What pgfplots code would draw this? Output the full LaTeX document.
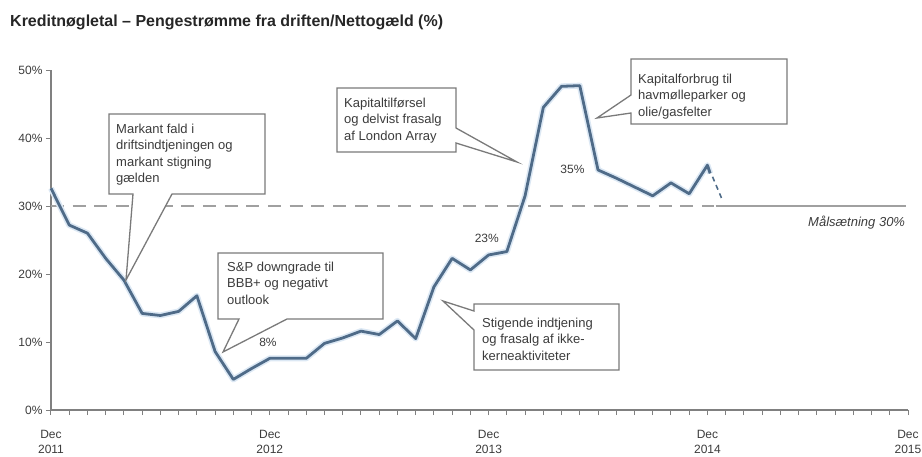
\documentclass[border=0pt]{standalone}
\usepackage{fontspec}
\setmainfont{Liberation Sans}
\usepackage{pgfplots}
\pgfplotsset{compat=1.18}
\definecolor{serie}{HTML}{4F6B88}
\definecolor{halo}{HTML}{DCE8F4}
\definecolor{axgray}{HTML}{808080}
\definecolor{refgray}{HTML}{A0A0A0}
\definecolor{txt}{HTML}{3C3C3C}
\definecolor{boxgray}{HTML}{7A7A7A}
\pgfplotstableread{
m v
0 32.6
1 27.2
2 26.0
3 22.3
4 19.1
5 14.2
6 13.9
7 14.5
8 16.8
9 8.6
10 4.5
11 6.1
12 7.6
13 7.6
14 7.6
15 9.8
16 10.6
17 11.6
18 11.1
19 13.1
20 10.5
21 18.1
22 22.3
23 20.6
24 22.8
25 23.3
26 31.5
27 44.5
28 47.6
29 47.7
30 35.3
31 34.1
32 32.8
33 31.5
34 33.4
35 31.8
36 36.0
36.15 34.8
}\ratio
\begin{document}
\begin{tikzpicture}
\path[use as bounding box] (0,0) rectangle (922pt,-456pt);
\node[anchor=base west, inner sep=0, font=\fontsize{16}{19}\selectfont\bfseries, text=black!85] at (10pt,-26pt) {Kreditnøgletal – Pengestrømme fra driften/Nettogæld (\%)};
\begin{axis}[
  at={(51pt,-410pt)}, anchor=origin,
  scale only axis, width=857pt, height=340pt,
  xmin=0, xmax=47, ymin=0, ymax=50,
  axis x line*=bottom, axis y line*=left,
  axis line style={draw=axgray, line width=1.3pt, -},
  xtick={0,12,24,36,47},
  xticklabels={{Dec\\2011},{Dec\\2012},{Dec\\2013},{Dec\\2014},{Dec\\2015}},
  xticklabel style={align=center, font=\fontsize{12}{15}\selectfont, text=txt, yshift=-12pt},
  minor xtick={1,...,46},
  ytick={0,10,...,50},
  yticklabel={\pgfmathprintnumber{\tick}\%},
  yticklabel style={font=\fontsize{12}{14}\selectfont, text=txt},
  tick align=outside,
  major tick length=5pt, minor tick length=5pt,
  tick style={draw=axgray, line width=1pt},
  clip=false,
  /pgf/number format/assume math mode=true,
]
\addplot[refgray, line width=2.2pt, dash pattern=on 13pt off 8.7pt] coordinates {(0,30) (36.35,30)};
\addplot[refgray, line width=2.2pt] coordinates {(36.45,30) (46.9,30)};
\addplot[halo, line width=6pt, line join=round] table[x=m,y=v] {\ratio};
\addplot[serie, line width=2.8pt, line join=round] table[x=m,y=v] {\ratio};
\addplot[serie, line width=1.6pt, dash pattern=on 5pt off 4pt] coordinates {(36.28,34.3) (36.8,31.0)};
\node[font=\fontsize{12}{14}\selectfont, text=txt] at (axis cs:11.9,10.0) {8\%};
\node[font=\fontsize{12}{14}\selectfont, text=txt] at (axis cs:23.9,25.3) {23\%};
\node[font=\fontsize{12}{14}\selectfont, text=txt] at (axis cs:28.6,35.4) {35\%};
\node[anchor=east, inner sep=0, font=\fontsize{13}{15}\selectfont\itshape, text=txt] at (axis cs:46.85,27.5) {Målsætning 30\%};
\end{axis}
\begin{scope}[x=1pt,y=-1pt, every node/.style={anchor=north west, inner sep=0, align=left, font=\fontsize{13}{16.5}\selectfont, text=txt}]
\draw[boxgray, line width=1.3pt, fill=white] (109,114)--(265,114)--(265,194)--(172,194)--(126,280)--(133,194)--(109,194)--cycle;
\node at (116,123.5) {Markant fald i\\driftsindtjeningen og\\markant stigning\\gælden};
\draw[boxgray, line width=1.3pt, fill=white] (218,253)--(383,253)--(383,319)--(287,319)--(223,352)--(239,319)--(218,319)--cycle;
\node at (227,261.5) {S\&P downgrade til\\BBB+ og negativt\\outlook};
\draw[boxgray, line width=1.3pt, fill=white] (337,88)--(456,88)--(456,128)--(517,162)--(456,143)--(456,152)--(337,152)--cycle;
\node at (344,97.5) {Kapitaltilførsel\\og delvist frasalg\\af London Array};
\draw[boxgray, line width=1.3pt, fill=white] (474,304)--(619,304)--(619,370)--(474,370)--(474,330)--(443,301)--(474,311)--cycle;
\node at (482,317.5) {Stigende indtjening\\og frasalg af ikke-\\kerneaktiviteter};
\draw[boxgray, line width=1.3pt, fill=white] (631,59)--(787,59)--(787,124)--(631,124)--(631,113)--(597,118)--(631,95)--cycle;
\node at (638,73.5) {Kapitalforbrug til\\havmølleparker og\\olie/gasfelter};
\end{scope}
\end{tikzpicture}
\end{document}
